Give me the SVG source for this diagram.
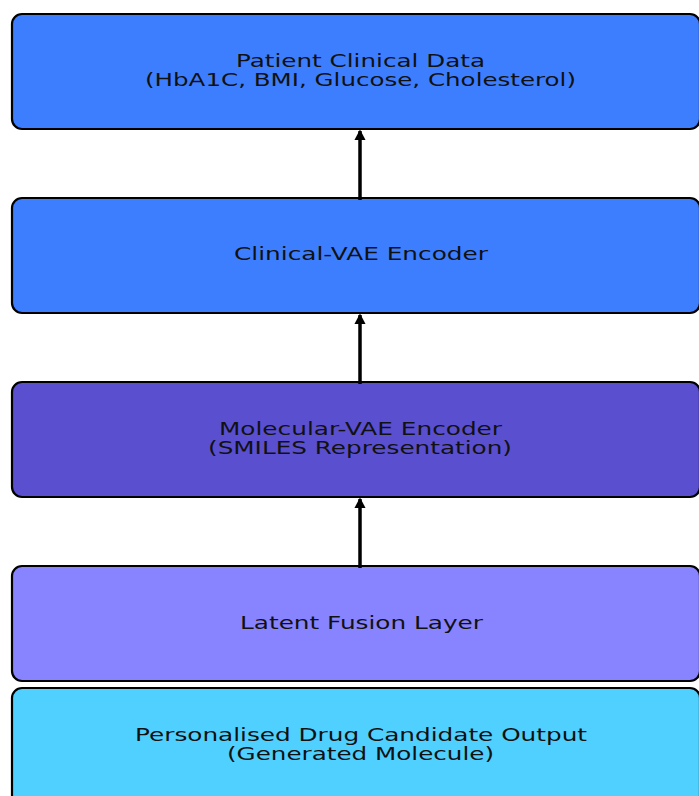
<svg xmlns="http://www.w3.org/2000/svg" width="699" height="796" viewBox="0 0 699 796">
<style>
.box{stroke:#000;stroke-width:2.2}
.t{font-family:"DejaVu Sans",sans-serif;font-size:17px;fill:#111;text-anchor:middle}
.c{stroke:#000;stroke-width:3.5;fill:none}
</style>
<defs>
<marker id="ah" markerWidth="4" markerHeight="4" refX="2.6" refY="2" orient="auto" markerUnits="strokeWidth">
<path d="M0,0.4 L3,2 L0,3.6 Z" fill="#000"/>
</marker>
</defs>
<rect width="699" height="796" fill="#fff"/>
<g id="n1">
<rect class="box" x="12" y="14" width="688" height="115" rx="10" fill="#3d7eff"/>
<text class="t" x="360.5" y="67" textLength="249" lengthAdjust="spacingAndGlyphs">Patient Clinical Data</text>
<text class="t" x="360.5" y="86" textLength="431" lengthAdjust="spacingAndGlyphs">(HbA1C, BMI, Glucose, Cholesterol)</text>
</g>
<g id="n2">
<rect class="box" x="12" y="198" width="688" height="115" rx="10" fill="#3d7eff"/>
<text class="t" x="361" y="260" textLength="254" lengthAdjust="spacingAndGlyphs">Clinical-VAE Encoder</text>
</g>
<g id="n3">
<rect class="box" x="12" y="382" width="688" height="115" rx="10" fill="#5a4fcf"/>
<text class="t" x="360.5" y="434.5" textLength="283" lengthAdjust="spacingAndGlyphs">Molecular-VAE Encoder</text>
<text class="t" x="360" y="453.5" textLength="304" lengthAdjust="spacingAndGlyphs">(SMILES Representation)</text>
</g>
<g id="n4">
<rect class="box" x="12" y="566" width="688" height="115" rx="10" fill="#8884ff"/>
<text class="t" x="361.5" y="628.5" textLength="243" lengthAdjust="spacingAndGlyphs">Latent Fusion Layer</text>
</g>
<g id="n5">
<rect class="box" x="12" y="688" width="688" height="120" rx="10" fill="#4fd0ff"/>
<text class="t" x="361" y="741" textLength="452" lengthAdjust="spacingAndGlyphs">Personalised Drug Candidate Output</text>
<text class="t" x="360.5" y="760" textLength="267" lengthAdjust="spacingAndGlyphs">(Generated Molecule)</text>
</g>
<g id="connectors">
<line class="c" x1="360" y1="200" x2="360" y2="131" marker-end="url(#ah)"/>
<line class="c" x1="360" y1="384" x2="360" y2="315" marker-end="url(#ah)"/>
<line class="c" x1="360" y1="568" x2="360" y2="499" marker-end="url(#ah)"/>
</g>
</svg>
